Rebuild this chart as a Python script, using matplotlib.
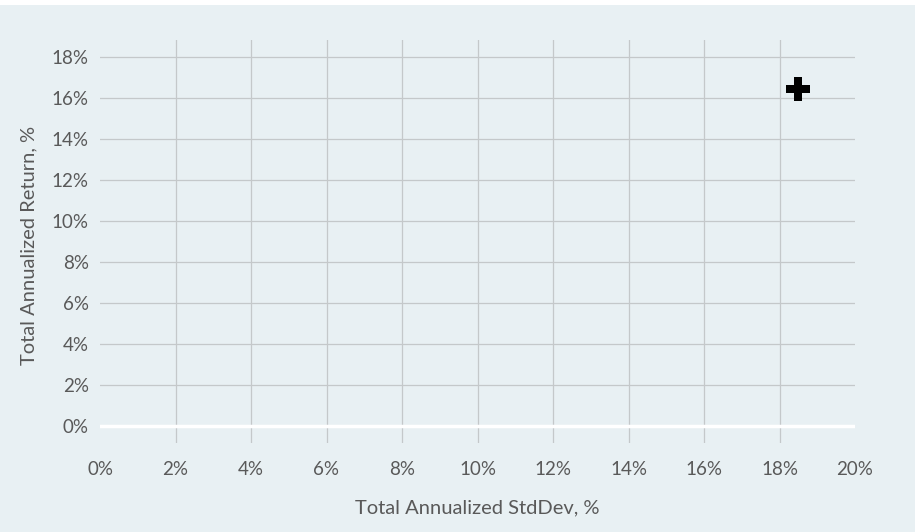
import matplotlib.pyplot as plt
from matplotlib.patches import Rectangle
from matplotlib.ticker import FuncFormatter

# data
std_dev = [18.5]
ann_return = [16.45]
x_ticks = list(range(0, 21, 2))
y_ticks = list(range(0, 19, 2))

bg = '#e8f0f3'
txt = '#595959'
plt.rcParams['font.family'] = ['Lato', 'DejaVu Sans']

fig = plt.figure(figsize=(9.15, 5.32), dpi=100)
fig.patches.append(Rectangle((0, 0), 1, 527 / 532, transform=fig.transFigure,
                             facecolor=bg, edgecolor='none', zorder=-10))

ax = fig.add_axes([100 / 915, 89 / 532, 755 / 915, 403 / 532])
ax.set_facecolor('none')
ax.set_xlim(0, 20)
ax.set_ylim(-0.83, 18.83)

for s in ax.spines.values():
    s.set_visible(False)

# grid
for x in x_ticks[1:-1]:
    ax.axvline(x, color='#c4c8ca', lw=0.9, zorder=1)
for y in y_ticks[1:]:
    ax.axhline(y, color='#c4c8ca', lw=0.9, zorder=1)
ax.axhline(0, color='white', lw=2.5, zorder=2)

ax.scatter(std_dev, ann_return, marker='P', s=300, color='black', zorder=5,
           linewidths=0)

ax.set_xticks(x_ticks)
ax.set_yticks(y_ticks)
fmt = FuncFormatter(lambda v, p: '%d%%' % v)
ax.xaxis.set_major_formatter(fmt)
ax.yaxis.set_major_formatter(fmt)
ax.tick_params(length=0, labelsize=13.5, colors=txt, pad=8)
ax.tick_params(axis='x', pad=13)

ax.set_xlabel('Total Annualized StdDev, %', fontsize=14.5, color=txt, labelpad=15)
ax.set_ylabel('Total Annualized Return, %', fontsize=14.5, color=txt)
ax.yaxis.set_label_coords(-0.083, 0.489)

fig.savefig('out.png', dpi=100)
